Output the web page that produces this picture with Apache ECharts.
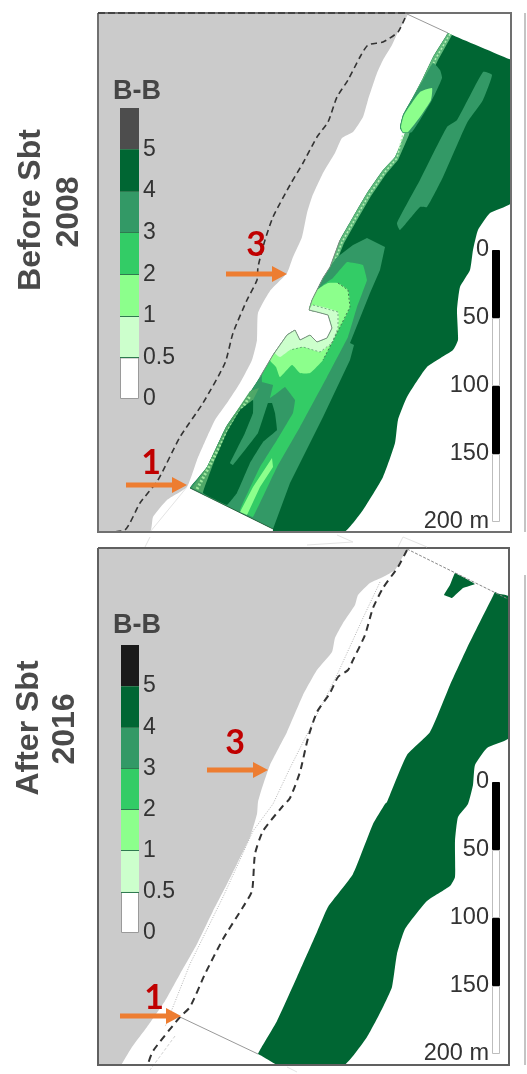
<!DOCTYPE html>
<html><head><meta charset="utf-8">
<style>html,body{margin:0;padding:0;background:#fff}#c{width:527px;height:1074px}</style>
<script src="https://cdn.jsdelivr.net/npm/echarts@6/dist/echarts.min.js"></script>
</head><body><div id="c"></div>
<script>
// ---------- legend and scale data ----------
const legendLabels = ['0','0.5','1','2','3','4','5'];
const legendColors2008 = ['#ffffff','#ccffcc','#8cff8c','#33cc66','#339966','#006633','#4d4d4d'];
const legendColors2016 = ['#ffffff','#ccffcc','#8cff8c','#33cc66','#339966','#006633','#1a1a1a'];
const legendBand = [1];
const scaleSegments = [50,50,50,50];
const scaleColors = ['#000000','#ffffff','#000000','#ffffff'];

// ---------- panel 2008 (map units) ----------
const land2008 = [[98,13],[407,14],[398,32],[392,45],[383,60],[377,73],[368,100],[363,117],[353,132],[342,138],[335,153],[323,173],[312,197],[307,213],[302,237],[293,257],[287,273],[270,291],[258,313],[257,340],[252,360],[240,383],[227,403],[215,420],[207,437],[197,460],[187,487],[167,500],[153,517],[150,532],[98,532]];
const coast2008 = [[190,488],[192,485],[207,467],[226,427],[247,397],[260,377],[273,355],[287,335],[295,330],[300,340],[310,335],[317,342],[327,338],[332,328],[328,315],[317,312],[309,310],[312,300],[323,278],[330,267],[340,240],[353,217],[367,193],[383,170],[395,157],[405,133],[400,128],[403,115],[413,97],[423,78],[433,57],[446,36],[448,33]];
const offshore2008 = [[451,34.5],[509,59],[512,60],[512,202],[490,213],[478,230],[473,250],[470,270],[460,287],[457,310],[458,340],[453,350],[427,367],[407,397],[398,420],[395,443],[383,477],[363,510],[343,533],[273,533],[273,529],[270,527.5],[193,489.5]];
const bar2008 = [[483,72],[492,75],[483,100],[467,123],[443,177],[427,207],[420,207],[400,230],[397,223],[420,180],[447,127],[457,120]];
const bandTop2008 = [[448,33],[433,57],[423,78],[413,97],[403,115],[400,128],[405,133],[395,157],[383,170],[367,193],[353,217],[340,240],[330,267],[323,278],[312,300],[316,301],[327,280],[334,268],[344,243],[357,220],[371,196],[386,174],[398,160],[409,135],[417,100],[428,81],[438,60],[452,35]];
const bandTopStipple2008 = [[450,34],[436,58],[426,79],[412,110],[403,134],[397,158],[385,172],[369,195],[355,219],[342,242],[332,268],[325,279],[314,300]];
const patchTop2008 = [[440,70],[442,78],[432,100],[412,132],[403,133],[400,128],[403,115],[423,80],[433,63]];
const patchTopLight2008 = [[432,88],[431,100],[420,117],[408,132],[403,132],[401,127],[404,115],[420,92]];
const mid2008 = [[190,488],[207,467],[226,427],[247,397],[260,377],[273,355],[287,335],[295,330],[300,340],[310,335],[317,342],[327,338],[332,328],[328,315],[317,312],[309,310],[312,300],[323,278],[330,267],[336,258],[353,245],[367,238],[385,247],[380,270],[370,293],[350,343],[354,345],[350,360],[323,417],[290,483],[273,529]];
const bright2008 = [[347,262],[363,265],[367,280],[357,307],[348,337],[327,377],[300,427],[277,467],[253,517],[240,510],[260,467],[277,440],[293,413],[295,400],[285,387],[277,393],[270,398],[273,385],[262,382],[262,375],[273,355],[287,335],[295,330],[300,340],[310,335],[317,342],[327,338],[332,328],[328,315],[317,312],[309,310],[312,300],[323,285],[333,278]];
const light2008 = [[338,283],[348,290],[350,307],[337,333],[323,360],[310,373],[300,373],[292,365],[280,377],[276,367],[270,360],[281,345],[295,330],[300,340],[310,335],[317,342],[327,338],[332,328],[328,315],[317,312],[309,310],[312,300],[317,290],[328,283]];
const pale2008 = [[313,305],[338,312],[338,328],[332,343],[320,352],[303,347],[290,350],[280,357],[275,353],[287,335],[295,330],[300,340],[310,335],[317,342],[327,338],[332,328],[328,315],[317,312],[309,310]];
const bandBottom2008 = [[192,488],[203,493],[214,462],[227,432],[240,410],[253,400],[259,388],[250,391],[226,427],[207,467]];
const bandBottomStipple2008 = [[197,489],[210,465],[229,429],[250,396]];
const deep2008 = [[203,493],[214,462],[227,432],[240,410],[253,400],[253,413],[245,433],[230,463],[233,465],[258,433],[268,403],[272,403],[275,413],[277,430],[263,442],[250,463],[237,493],[227,505]];
const sliver2008 = [[272,458],[273,467],[260,487],[247,515],[240,512],[253,487]];
const shoreline2008 = [[260,377],[273,355],[287,335],[295,330],[300,340],[310,335],[317,342],[327,338],[332,328],[328,315],[317,312],[309,310],[312,300],[323,278],[330,267],[340,240]];
const contour2008 = [[338,283],[348,290],[350,307],[337,333],[323,360]];
const contourPale2008 = [[313,305],[338,312],[338,328],[332,343],[320,352],[303,347],[290,350]];
const track2008 = [[405,18],[398,32],[383,42],[368,45],[360,57],[348,80],[337,97],[328,122],[317,137],[303,163],[290,185],[273,217],[265,240],[258,267],[257,280],[247,300],[233,333],[225,363],[203,403],[180,437],[158,480],[140,503],[125,530],[103,532]];
const trackTop2008 = [[98,13],[405,13]];
const endNorth2008 = [[407,14],[448,33]];
const endSouth2008 = [[187,487],[150,532]];
const endBottom2008 = [[190,488],[273,529]];

// ---------- panel 2016 (map units) ----------
const land2016 = [[98,548],[407,549],[402,558],[395,570],[383,577],[370,583],[358,595],[355,605],[343,623],[335,638],[332,652],[317,670],[303,695],[287,732],[270,765],[262,788],[258,802],[257,814],[250,837],[237,864],[227,884],[213,911],[197,944],[180,974],[165,1001],[147,1027],[132,1047],[123,1062],[120,1066],[97,1066]];
const green2016 = [[493,596],[495,592],[498,593.5],[510,597],[510,737],[487,748],[475,765],[473,785],[468,804],[458,817],[455,841],[455,877],[450,886],[427,901],[405,929],[397,954],[392,987],[383,1007],[367,1037],[343,1066],[280,1066],[261,1055.5],[258,1054],[260,1050],[277,1021],[297,977],[317,932],[328,907],[353,874],[373,824],[385,804],[387,802],[407,755],[430,732],[450,685],[467,648]];
const islet2016 = [[455,573],[475,584],[463,588],[452,598],[444,595],[450,585]];
const track2016 = [[407,550],[398,567],[383,588],[373,608],[365,635],[353,660],[348,670],[338,677],[330,693],[317,712],[308,738],[300,772],[290,798],[282,807],[263,831],[255,854],[252,891],[243,907],[223,939],[205,974],[190,1007],[180,1017],[153,1051],[148,1064]];
const oldLine2016 = [[380,582],[363,618],[337,675],[290,768],[273,804],[253,831],[223,897],[190,964],[165,1027]];
const oldLineEnd2016 = [[175,1036],[150,1070]];
const endNorth2016 = [[407,549],[510,600]];
const endSouth2016 = [[180,1017],[258,1054]];
const ghostA = [[145,547],[150,537]];
const ghostB = [[307,545],[353,542],[337,535]];
const ghostC = [[398,547],[403,537],[427,547]];
const ghostD = [[287,1067],[297,1072]];

// ---------- arrows ----------
const arrow2008Three = [[226,274],[287,274]];
const arrow2008One = [[126,485],[187,485]];
const arrow2016Three = [[207,770],[268,770]];
const arrow2016One = [[120,1016],[181,1016]];

// ---------- frames ----------
const frame2008 = [[98,13],[511,13],[511,532],[98,532],[98,13]];
const frame2016 = [[98,548],[509,548],[509,1065],[98,1065],[98,548]];

function pathSeries(g, pts, style, closed, smooth){
  return {type:'custom',coordinateSystem:'cartesian2d',xAxisIndex:g,yAxisIndex:g,silent:true,animation:false,
    data:pts,encode:{x:0,y:1},
    renderItem:function(p,api){
      if(p.dataIndex!==0) return null;
      const el={type:closed?'polygon':'polyline',shape:{points:pts.map(q=>api.coord(q)),smooth:smooth||0},
        style:Object.assign(closed?{}:{fill:null},style)};
      if(closed){const r=p.coordSys;el.clipPath={type:'rect',shape:{x:r.x,y:r.y,width:r.width,height:r.height}};}
      return el;
    }};
}
const fill=(g,pts,c,s)=>pathSeries(g,pts,{fill:c},true,s===undefined?0.15:s);
const line=(g,pts,c,w,dash,s)=>pathSeries(g,pts,{stroke:c,lineWidth:w,lineDash:dash||null},false,s||0);
function arrow(g,pts){
  return {type:'custom',coordinateSystem:'cartesian2d',xAxisIndex:g,yAxisIndex:g,silent:true,animation:false,
    data:pts,encode:{x:0,y:1},
    renderItem:function(p,api){
      if(p.dataIndex!==0) return null;
      const a=api.coord(pts[0]),b=api.coord(pts[1]);
      return {type:'polygon',shape:{points:[[a[0],a[1]-2.5],[b[0]-15,b[1]-2.5],[b[0]-15,b[1]-8],[b[0],b[1]],[b[0]-15,b[1]+8],[b[0]-15,b[1]+2.5],[a[0],a[1]+2.5]]},style:{fill:'#ed7d31'}};
    }};
}
const C={land:'#cbcbcb',deep:'#006633',mid:'#339966',bright:'#33cc66',light:'#8cff8c',pale:'#ccffcc'};

const mapSeries=[
  fill(0,land2008,C.land),
  fill(0,coast2008.concat(offshore2008),C.deep),
  fill(0,bar2008,C.mid),
  fill(0,bandTop2008,'#5fb97c',0),
  line(0,bandTopStipple2008,'#b4f0b4',1.6,[2,2]),
  fill(0,patchTop2008,C.mid),
  fill(0,patchTopLight2008,C.light),
  fill(0,mid2008,C.mid,0),
  fill(0,bright2008,C.bright,0.05),
  fill(0,light2008,C.light),
  fill(0,pale2008,C.pale),
  fill(0,bandBottom2008,'#4fa868',0),
  line(0,bandBottomStipple2008,'#9fe89f',3,[2,2]),
  fill(0,deep2008,C.deep,0.05),
  fill(0,sliver2008,C.light,0),
  line(0,endBottom2008,'#2a5a3a',0.8),
  line(0,shoreline2008,'#7d8f82',1),
  line(0,contour2008,'#3c7a50',1,[2,2]),
  line(0,contourPale2008,'#5c9a70',0.8,[2,2]),
  line(0,endNorth2008,'#999999',1),
  line(0,endSouth2008,'#e4e4e4',1),
  line(0,track2008,'#333333',1.6,[6,4],0.2),
  line(0,frame2008,'#707070',2),
  line(0,trackTop2008,'#444444',2,[7,3]),
  arrow(0,arrow2008Three),
  arrow(0,arrow2008One),

  fill(1,land2016,C.land),
  fill(1,green2016,C.deep),
  fill(1,islet2016,C.deep,0.05),
  line(1,oldLine2016,'#b5b5b5',1,[1,1.5]),
  line(1,oldLineEnd2016,'#d0d0d0',1,[3,2]),
  line(1,endNorth2016,'#888888',1,[3,1.5]),
  line(1,endSouth2016,'#999999',1),
  line(1,track2016,'#333333',2,[7,5],0.2),
  line(1,frame2016,'#606060',2),
  line(1,ghostA,'#e4e4e4',1),
  line(1,ghostB,'#e4e4e4',1),
  line(1,ghostC,'#e4e4e4',1),
  line(1,ghostD,'#e4e4e4',1),
  arrow(1,arrow2016Three),
  arrow(1,arrow2016One)
];

function legendSeries(g,colors){
  return colors.map((c,i)=>({type:'bar',xAxisIndex:g,yAxisIndex:g,stack:'L'+g,data:legendBand,barWidth:'100%',silent:true,animation:false,z:5,
    itemStyle:{color:c,borderColor:'#9a9a9a',borderWidth:i===0?1:0}}));
}
function scaleSeries(g){
  return scaleSegments.map((v,i)=>({type:'bar',xAxisIndex:g,yAxisIndex:g,stack:'S'+g,data:[v],barWidth:'100%',silent:true,animation:false,z:5,
    itemStyle:{color:scaleColors[i],borderColor:i%2?'#bdbdbd':'#000',borderWidth:1}}));
}
const hiddenX=(g,min,max)=>({gridIndex:g,type:'value',min,max,show:false});
const hiddenY=(g,min,max)=>({gridIndex:g,type:'value',min,max,show:false,inverse:true});
const catX=g=>({gridIndex:g,type:'category',data:[''],show:false});
const txt={fontFamily:'Liberation Sans',color:'#333333'};
const legendY=g=>({gridIndex:g,type:'value',min:0,max:7,interval:1,position:'right',z:10,
  axisLine:{show:false},axisTick:{show:false},
  splitLine:{show:true,showMinLine:false,showMaxLine:false,lineStyle:{color:'#2f7a50',width:1}},
  axisLabel:Object.assign({fontSize:23,margin:4,padding:[0,0,4,0],align:'left',showMinLabel:true,showMaxLabel:true,
    formatter:v=>legendLabels[v]||''},txt)});
const scaleY=g=>({gridIndex:g,type:'value',min:0,max:200,interval:50,inverse:true,position:'left',z:10,
  axisLine:{show:false},axisTick:{show:false},splitLine:{show:false},
  axisLabel:Object.assign({fontSize:23.5,margin:3,padding:[0,0,3,0],showMinLabel:true,showMaxLabel:true,
    formatter:v=>v===200?'200 m':String(v)},txt)});

const heading=(t,x,y)=>({type:'text',x,y,rotation:Math.PI/2,z:20,style:{text:t,align:'center',verticalAlign:'middle',font:'bold 32px "Liberation Sans"',fill:'#4a4a4a'}});
const label=(t,x,y,font,fill)=>({type:'text',x,y,z:20,style:{text:t,align:'center',verticalAlign:'middle',font,fill}});
const redFont='bold 34px Lato';

const chart=echarts.init(document.getElementById('c'),null,{renderer:'canvas'});
chart.setOption({
  animation:false,
  backgroundColor:'#ffffff',
  grid:[
    {left:98,top:13,width:413,height:519},
    {left:98,top:548,width:411,height:517},
    {left:120,top:108,width:19,height:291},
    {left:121,top:645,width:18,height:288},
    {left:492,top:250,width:8,height:272},
    {left:492,top:782,width:8,height:272}
  ],
  xAxis:[hiddenX(0,98,511),hiddenX(1,98,509),catX(2),catX(3),catX(4),catX(5)],
  yAxis:[hiddenY(0,13,532),hiddenY(1,548,1065),legendY(2),legendY(3),scaleY(4),scaleY(5)],
  series:mapSeries.concat(legendSeries(2,legendColors2008),legendSeries(3,legendColors2016),scaleSeries(4),scaleSeries(5)),
  graphic:[
    heading('Before Sbt',31,210),heading('2008',69,212),
    heading('After Sbt',29,728),heading('2016',65,729),
    label('B-B',137,92,'bold 27px "Liberation Sans"','#454545'),
    label('B-B',137,626,'bold 27px "Liberation Sans"','#454545'),
    label('3',256,245,redFont,'#c00000'),
    label('1',151,463,redFont,'#c00000'),
    label('3',235,743,redFont,'#c00000'),
    label('1',154,998,redFont,'#c00000'),
    {type:'rect',shape:{x:524,y:13,width:2,height:519},style:{fill:'#c4c4c4'},z:1},
    {type:'rect',shape:{x:524,y:575,width:2,height:490},style:{fill:'#c4c4c4'},z:1}
  ]
});
</script></body></html>
